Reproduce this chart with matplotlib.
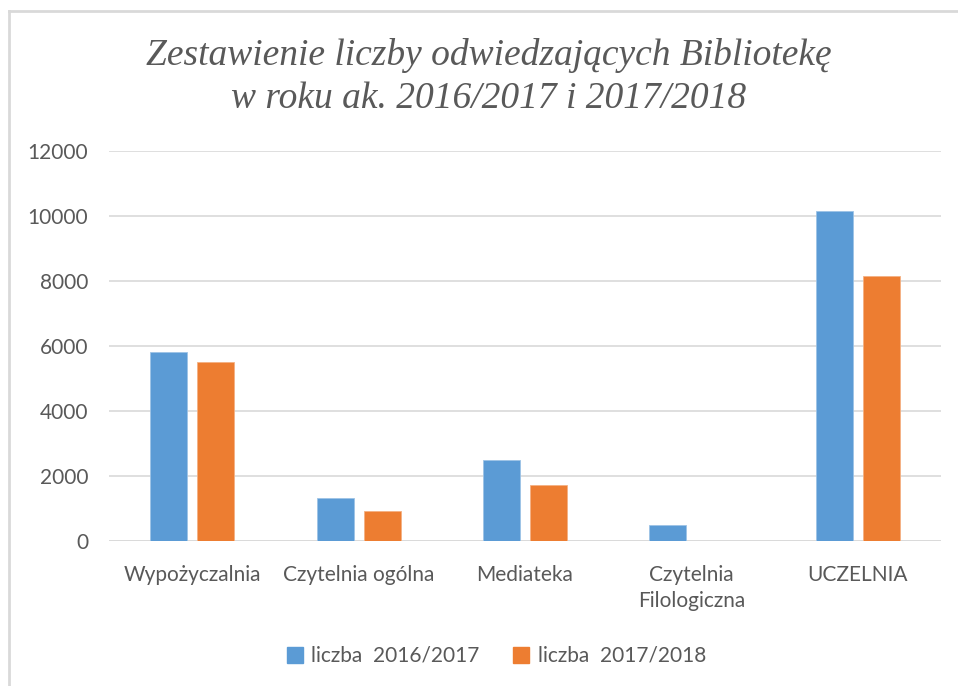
import numpy as np
import matplotlib.pyplot as plt
from matplotlib.lines import Line2D

# data
categories = ["Wypożyczalnia", "Czytelnia ogólna", "Mediateka", "Czytelnia\nFilologiczna", "UCZELNIA"]
values_2016 = [5806, 1313, 2492, 483, 10154]
values_2017 = [5498, 923, 1713, 0, 8144]
series_labels = ["liczba  2016/2017", "liczba  2017/2018"]

blue = "#5b9bd5"
orange = "#ed7d31"
text_gray = "#595959"

plt.rcParams["font.family"] = ["Lato", "DejaVu Sans"]

fig = plt.figure(figsize=(9.58, 6.86), dpi=100)
ax = fig.add_axes([109 / 958, 145 / 686, 832 / 958, 390 / 686])

x = np.arange(len(categories))
w = 0.222
off = 0.141
ax.bar(x - off, values_2016, w, color=blue, edgecolor="#9dc3e6", linewidth=0.6, label=series_labels[0], zorder=3)
ax.bar(x + off, values_2017, w, color=orange, edgecolor="#f4b183", linewidth=0.6, label=series_labels[1], zorder=3)

ax.set_xlim(-0.5, len(categories) - 0.5)
ax.set_ylim(0, 12000)
ax.set_yticks(range(0, 12001, 2000))
ax.yaxis.grid(True, color="#d9d9d9", linewidth=1.2, zorder=0)
for s in ax.spines.values():
    s.set_visible(False)
ax.axhline(0, color="#d9d9d9", linewidth=1.2, zorder=1)
ax.tick_params(axis="both", length=0, labelsize=15, colors=text_gray)
ax.tick_params(axis="y", pad=15)
ax.tick_params(axis="x", pad=17)
ax.set_xticks(x)
ax.set_xticklabels(categories, linespacing=1.4)

# title
fig.text(0.51, 0.888, "Zestawienie liczby odwiedzających Bibliotekę\nw roku ak. 2016/2017 i 2017/2018",
         ha="center", va="center", family="Liberation Serif", style="italic",
         fontsize=27, color=text_gray, linespacing=1.32)

# legend
handles = [Line2D([], [], marker="s", linestyle="", markersize=11, color=blue),
           Line2D([], [], marker="s", linestyle="", markersize=11, color=orange)]
fig.legend(handles, series_labels, loc="center", bbox_to_anchor=(0.517, 0.044), ncol=2,
           frameon=False, fontsize=15, labelcolor=text_gray, handletextpad=0.3,
           columnspacing=1.5, handlelength=1.0)

# chart border (left and top edges visible)
fig.add_artist(Line2D([9 / 958, 9 / 958], [0, 1 - 11 / 686], transform=fig.transFigure, color="#d9d9d9", linewidth=2))
fig.add_artist(Line2D([9 / 958, 1], [1 - 11 / 686, 1 - 11 / 686], transform=fig.transFigure, color="#d9d9d9", linewidth=2))

fig.savefig("out.png", dpi=100)
